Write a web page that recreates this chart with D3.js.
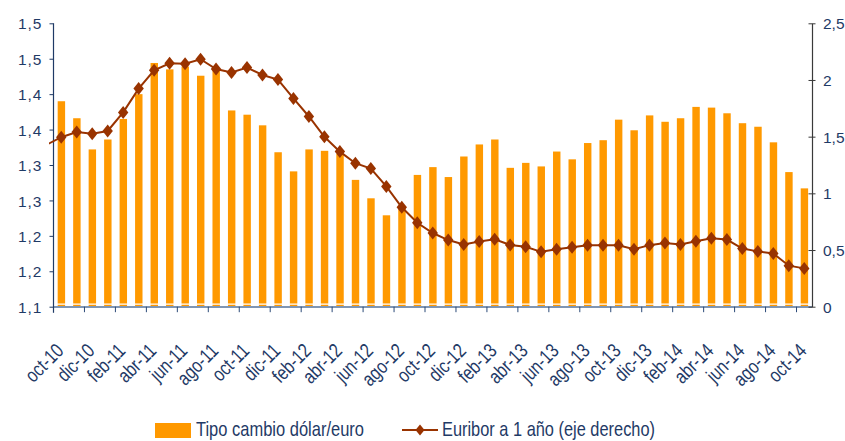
<!DOCTYPE html>
<html>
<head>
<meta charset="utf-8">
<script src="https://cdn.jsdelivr.net/npm/d3@7"></script>
<style>
  html, body { margin: 0; padding: 0; background: #fff; }
  svg { display: block; }
</style>
</head>
<body>
<svg id="chart" width="845" height="441"></svg>
<script>
const categories = [
  "oct-10","nov-10","dic-10",
  "ene-11","feb-11","mar-11","abr-11","may-11","jun-11","jul-11","ago-11","sep-11","oct-11","nov-11","dic-11",
  "ene-12","feb-12","mar-12","abr-12","may-12","jun-12","jul-12","ago-12","sep-12","oct-12","nov-12","dic-12",
  "ene-13","feb-13","mar-13","abr-13","may-13","jun-13","jul-13","ago-13","sep-13","oct-13","nov-13","dic-13",
  "ene-14","feb-14","mar-14","abr-14","may-14","jun-14","jul-14","ago-14","sep-14","oct-14"
];
const tipoCambio = [
  1.390, 1.366, 1.322,
  1.336, 1.365, 1.400, 1.444, 1.435, 1.439, 1.426, 1.434, 1.377, 1.371, 1.356, 1.318,
  1.291, 1.322, 1.320, 1.316, 1.279, 1.253, 1.229, 1.240, 1.286, 1.297, 1.283, 1.312,
  1.329, 1.336, 1.296, 1.303, 1.298, 1.319, 1.308, 1.331, 1.335, 1.364, 1.349, 1.370,
  1.361, 1.366, 1.382, 1.381, 1.373, 1.359, 1.354, 1.332, 1.290, 1.267
];
const euribor = [
  1.495, 1.541, 1.526,
  1.550, 1.714, 1.924, 2.086, 2.147, 2.144, 2.183, 2.097, 2.067, 2.110, 2.044, 2.004,
  1.837, 1.678, 1.499, 1.368, 1.266, 1.219, 1.061, 0.877, 0.740, 0.650, 0.588, 0.549,
  0.575, 0.594, 0.545, 0.528, 0.484, 0.507, 0.525, 0.542, 0.543, 0.541, 0.506, 0.543,
  0.562, 0.549, 0.577, 0.604, 0.592, 0.513, 0.488, 0.469, 0.362, 0.338
];
// previous month value (sep-10): only its incoming segment is visible at the left edge
const euriborPrev = 1.425;
const leftTicks = [1.10, 1.15, 1.20, 1.25, 1.30, 1.35, 1.40, 1.45, 1.50];
const leftTickLabels = ["1,1", "1,2", "1,2", "1,3", "1,3", "1,4", "1,4", "1,5", "1,5"];
const rightTicks = [0, 0.5, 1, 1.5, 2, 2.5];
const rightTickLabels = ["0", "0,5", "1", "1,5", "2", "2,5"];
const seriesNames = ["Tipo cambio dólar/euro", "Euribor a 1 año (eje derecho)"];

const svg = d3.select("#chart");
const L = 53.5, R = 812, T = 23.3, B = 306.7;
const textColor = "#1f3a66";
const barColor = "#ff9900";
const lineColor = "#993300";
const narrow = 0.8;

function squeeze(sel, factor) {
  sel.each(function () {
    const len = this.getComputedTextLength();
    d3.select(this).attr("textLength", len * factor).attr("lengthAdjust", "spacingAndGlyphs");
  });
}

const x = d3.scaleBand().domain(categories).range([L, R]).padding(0);
const bw = x.bandwidth();
const yL = d3.scaleLinear().domain([1.1, 1.5]).range([B, T]);
const yR = d3.scaleLinear().domain([0, 2.5]).range([B, T]);

// Bars
svg.append("g").selectAll("rect").data(categories).join("rect")
  .attr("x", d => x(d) + bw * 0.27)
  .attr("width", bw * 0.48)
  .attr("y", (d, i) => yL(tipoCambio[i]))
  .attr("height", (d, i) => B - yL(tipoCambio[i]))
  .attr("fill", barColor);

// white break stripe near the base
svg.append("line")
  .attr("x1", L + 1).attr("x2", R - 1)
  .attr("y1", yL(1.1037)).attr("y2", yL(1.1037))
  .attr("stroke", "#fff").attr("stroke-width", 1.4);

// X axis line
svg.append("line").attr("x1", L).attr("x2", R).attr("y1", B + 0.3).attr("y2", B + 0.3)
  .attr("stroke", "#7f96b4").attr("stroke-width", 2);

// X ticks every 2 categories
const tickCats = categories.filter((d, i) => i % 2 === 0);
svg.append("g").selectAll("line").data(tickCats).join("line")
  .attr("x1", d => x(d)).attr("x2", d => x(d))
  .attr("y1", B).attr("y2", B + 5.5)
  .attr("stroke", "#2b4a78").attr("stroke-width", 1);

// X labels
const xl = svg.append("g").selectAll("text").data(tickCats).join("text")
  .attr("transform", d => `translate(${x(d) + bw / 2 + 3.5},352) rotate(-45)`)
  .attr("text-anchor", "end")
  .attr("font-family", "Liberation Sans, Arial, sans-serif")
  .attr("font-size", 20)
  .attr("fill", textColor)
  .text(d => d);
squeeze(xl, narrow);

// Left axis
const gl = svg.append("g").attr("transform", `translate(${L},0)`)
  .call(d3.axisLeft(yL).tickValues(leftTicks).tickFormat((d, i) => leftTickLabels[i]).tickSize(4).tickSizeOuter(0));
gl.select(".domain").attr("stroke", "#1f3a66").attr("stroke-width", 1.2)
  .attr("d", `M0,${T}V${B + 6}`);
gl.selectAll(".tick line").attr("stroke", "#1f3a66");
gl.selectAll(".tick text").attr("font-family", "Liberation Sans, Arial, sans-serif")
  .attr("font-size", 15.5).attr("fill", textColor).attr("x", -11).attr("dy", "0.36em")
  .attr("letter-spacing", "1px");

// Right axis
const gr = svg.append("g").attr("transform", `translate(${R},0)`)
  .call(d3.axisRight(yR).tickValues(rightTicks).tickFormat((d, i) => rightTickLabels[i]).tickSize(3.5).tickSizeOuter(0));
gr.select(".domain").attr("stroke", "#3a3a3a").attr("stroke-width", 1.2);
gr.selectAll(".tick line").attr("stroke", "#3a3a3a").attr("x1", -3.5);
gr.selectAll(".tick text").attr("font-family", "Liberation Sans, Arial, sans-serif")
  .attr("font-size", 15.5).attr("fill", textColor).attr("x", 11).attr("dy", "0.36em");

// Euribor line
svg.append("defs").append("clipPath").attr("id", "clip")
  .append("rect").attr("x", 49).attr("y", 0).attr("width", R - 49).attr("height", 441);
const pts = [[x(categories[0]) - bw / 2, yR(euriborPrev)]]
  .concat(categories.map((d, i) => [x(d) + bw / 2, yR(euribor[i])]));
svg.append("path")
  .attr("clip-path", "url(#clip)")
  .attr("d", d3.line()(pts))
  .attr("fill", "none").attr("stroke", lineColor).attr("stroke-width", 2);

const diamond = "M0,-6.5L5.2,0L0,6.5L-5.2,0Z";
svg.append("g").selectAll("path").data(categories).join("path")
  .attr("transform", (d, i) => `translate(${x(d) + bw / 2},${yR(euribor[i])})`)
  .attr("d", diamond)
  .attr("fill", lineColor);

// Legend
const lg = svg.append("g");
lg.append("rect").attr("x", 155).attr("y", 423).attr("width", 36).attr("height", 15).attr("fill", barColor);
lg.append("text").attr("x", 196).attr("y", 436)
  .attr("font-family", "Liberation Sans, Arial, sans-serif")
  .attr("font-size", 21).attr("fill", textColor)
  .attr("textLength", 168).attr("lengthAdjust", "spacingAndGlyphs")
  .text(seriesNames[0]);
lg.append("line").attr("x1", 402).attr("x2", 438).attr("y1", 430).attr("y2", 430)
  .attr("stroke", lineColor).attr("stroke-width", 2);
lg.append("path").attr("transform", "translate(420,430)").attr("d", "M0,-5.5L4.5,0L0,5.5L-4.5,0Z").attr("fill", lineColor);
lg.append("text").attr("x", 442).attr("y", 436)
  .attr("font-family", "Liberation Sans, Arial, sans-serif")
  .attr("font-size", 21).attr("fill", textColor)
  .attr("textLength", 213).attr("lengthAdjust", "spacingAndGlyphs")
  .text(seriesNames[1]);
</script>
</body>
</html>
